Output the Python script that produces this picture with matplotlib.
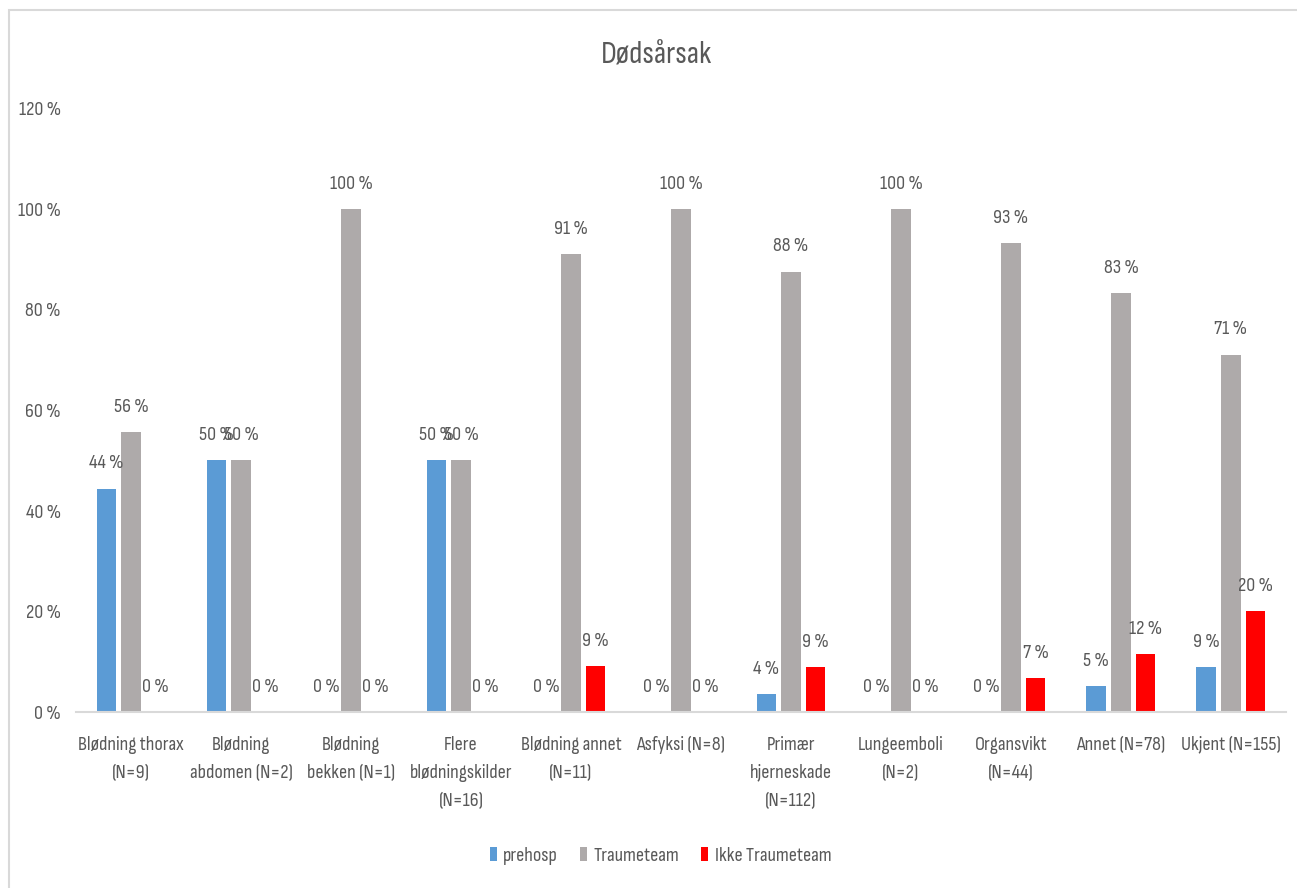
import matplotlib.pyplot as plt
import numpy as np
from matplotlib.patches import Rectangle

# ============================================================
# DATA
# ============================================================
categories = [
    "Blødning thorax\n(N=9)", "Blødning\nabdomen (N=2)", "Blødning\nbekken (N=1)",
    "Flere\nblødningskilder\n(N=16)", "Blødning annet\n(N=11)", "Asfyksi (N=8)",
    "Primær\nhjerneskade\n(N=112)", "Lungeemboli\n(N=2)", "Organsvikt\n(N=44)",
    "Annet (N=78)", "Ukjent (N=155)",
]
prehosp = [44.4, 50.0, 0.0, 50.0, 0.0, 0.0, 3.6, 0.0, 0.0, 5.1, 9.0]
traumeteam = [55.6, 50.0, 100.0, 50.0, 90.9, 100.0, 87.5, 100.0, 93.2, 83.3, 71.0]
ikke_traumeteam = [0.0, 0.0, 0.0, 0.0, 9.1, 0.0, 8.9, 0.0, 6.8, 11.5, 20.0]
yticks = [0, 20, 40, 60, 80, 100, 120]

series = [
    ("prehosp", prehosp, "#5B9BD5"),
    ("Traumeteam", traumeteam, "#AEAAAA"),
    ("Ikke Traumeteam", ikke_traumeteam, "#FF0000"),
]

# ============================================================
# PLOT
# ============================================================
plt.rcParams["font.family"] = ["Sofia Sans Condensed", "Carlito", "DejaVu Sans"]
txt = "#595959"
fs = 14.5

fig = plt.figure(figsize=(12.97, 8.88), dpi=100)
ax = fig.add_axes([0.0586, 0.1982, 0.9329, 0.6802])

x = np.arange(len(categories))
width = 0.175
step = 0.226

for i, (name, vals, color) in enumerate(series):
    pos = x + (i - 1) * step
    bars = ax.bar(pos, vals, width, color=color, label=name)
    for b, v in zip(bars, vals):
        ax.annotate(f"{round(v)} %", (b.get_x() + b.get_width() / 2, v),
                    xytext=(0, 14.5), textcoords="offset points",
                    ha="center", va="baseline", fontsize=fs, color=txt)

ax.set_xlim(-0.5, len(categories) - 0.5)
ax.set_ylim(0, 120)
ax.set_yticks(yticks)
ax.set_yticklabels([f"{t} %" for t in yticks])
ax.set_xticks(x)
ax.set_xticklabels(categories, linespacing=1.72)
ax.tick_params(axis="both", length=0, labelsize=fs, labelcolor=txt)
ax.tick_params(axis="x", pad=17)
ax.tick_params(axis="y", pad=11)

for s in ["top", "right", "left"]:
    ax.spines[s].set_visible(False)
ax.spines["bottom"].set_color("#D9D9D9")
ax.spines["bottom"].set_linewidth(1.5)

fig.text(0.506, 0.929, "Dødsårsak", ha="center", va="baseline", fontsize=23, color=txt)

ax.legend(loc="center", bbox_to_anchor=(0.483, -0.238), ncol=3, frameon=False,
          fontsize=fs, labelcolor=txt, handlelength=0.36, handleheight=0.72,
          handletextpad=0.3, columnspacing=1.1)

# outer chart frame
fig.add_artist(Rectangle((0.007, -0.01), 1.0, 0.999, transform=fig.transFigure,
                         fill=False, edgecolor="#D9D9D9", linewidth=1.5))

fig.savefig("out.png", dpi=100)
